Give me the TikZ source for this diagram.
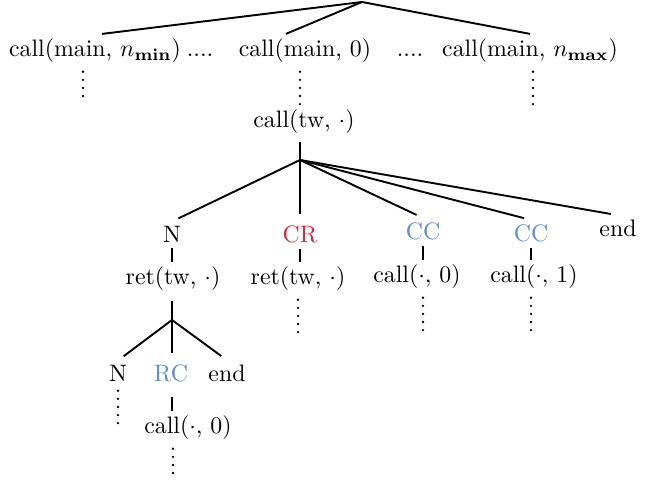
\documentclass[tikz,border=0pt]{standalone}
\usepackage{tikz}
\usepackage{xcolor}
\definecolor{crred}{HTML}{D7263D}
\definecolor{ccblue}{HTML}{5B8DD0}

\begin{document}
\begin{tikzpicture}[
  x=0.42pt, y=-0.42pt,
  lbl/.style={anchor=base, inner sep=2pt},
  edge/.style={line width=0.8pt},
  fan/.style={edge, shorten >=3pt},
  ell/.style={line width=1.1pt, line cap=round, dash pattern=on 0pt off 3.4pt, shorten <=1.5pt}
]
\useasboundingbox (0,0) rectangle (645,487);
% top level
\coordinate (root) at (362,2);
\node[lbl] (nmin) at (95,57) {call(main, $n_{\mathbf{min}}$)};
\node[lbl] (gapl) at (200,57) {....};
\node[lbl] (m0) at (305,57) {call(main, 0)};
\node[lbl] (gapr) at (410,57) {....};
\node[lbl] (nmax) at (530,57) {call(main, $n_{\mathbf{max}}$)};
\draw[edge] (root) -- ([xshift=3pt]nmin.north);
\draw[edge] (root) -- ([xshift=-8pt]m0.north);
\draw[edge] (root) -- (nmax.north);
\coordinate (d1) at (83,103);
\coordinate (d7) at (533,105);
\draw[ell] (nmin.south -| d1) -- (d1);
\draw[ell] (nmax.south -| d7) -- (d7);
% call of tw
\node[lbl] (tw) at (304,128) {call(tw, $\cdot$)};
\coordinate (j1) at (300,160);
\draw[ell] (m0.south -| j1) -- (tw.north -| j1);
\draw[edge, shorten <=1pt] (tw.south -| j1) -- (j1);
% branches
\node[lbl] (n) at (172,243) {N};
\node[lbl, text=crred] (cr) at (300,243) {CR};
\node[lbl, text=ccblue] (cc0) at (423,240) {CC};
\node[lbl, text=ccblue] (cc1) at (531,242) {CC};
\node[lbl] (fin) at (618,237) {end};
\draw[fan] (j1) -- (n.north);
\draw[fan] (j1) -- (cr.north);
\draw[fan] (j1) -- (cc0.north);
\draw[fan] (j1) -- (cc1.north);
\draw[fan] (j1) -- (fin.north);
\node[lbl] (ret0) at (173,285) {ret(tw, $\cdot$)};
\node[lbl] (ret1) at (298,285) {ret(tw, $\cdot$)};
\node[lbl] (c0) at (417,283) {call($\cdot$, 0)};
\node[lbl] (c1) at (534,283) {call($\cdot$, 1)};
\draw[edge] (n.south) -- (n.south |- ret0.north);
\draw[edge] (cr.south) -- (cr.south |- ret1.north);
\draw[edge] (cc0.south) -- (cc0.south |- c0.north);
\draw[edge] (cc1.south) -- (cc1.south |- c1.north);
\coordinate (d2) at (298,335);
\coordinate (d3) at (423,338);
\coordinate (d4) at (531,338);
\draw[ell] (ret1.south -| d2) -- (d2);
\draw[ell] (c0.south -| d3) -- (d3);
\draw[ell] (c1.south -| d4) -- (d4);
% return of tw
\coordinate (j2) at (172,320);
\draw[edge, shorten <=2pt] (ret0.south -| j2) -- (j2);
\node[lbl] (n2) at (118,382) {N};
\node[lbl, text=ccblue] (rc) at (171,382) {RC};
\node[lbl] (fin2) at (227,382) {end};
\draw[fan] (j2) -- (n2.north);
\draw[fan] (j2) -- (rc.north -| j2);
\draw[fan] (j2) -- (fin2.north);
\node[lbl] (c2) at (188,434) {call($\cdot$, 0)};
\draw[edge, shorten <=4pt] (rc.south -| j2) -- (j2 |- c2.north);
\coordinate (d5) at (118,425);
\coordinate (d6) at (173,478);
\draw[ell] (n2.south) -- (d5);
\draw[ell] (c2.south -| d6) -- (d6);
\end{tikzpicture}
\end{document}
